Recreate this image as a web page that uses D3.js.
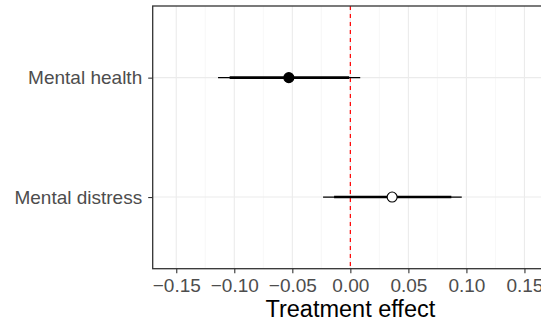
<!DOCTYPE html>
<html>
<head>
<meta charset="utf-8">
<script src="https://cdn.jsdelivr.net/npm/d3@7"></script>
<style>
  body { margin: 0; background: #fff; }
  svg { display: block; font-family: "Liberation Sans", Arial, sans-serif; }
</style>
</head>
<body>
<div id="chart"></div>
<script>
// data
var outcomes = ["Mental health", "Mental distress"];
var estimates = [-0.053, 0.036];
var ci90Low = [-0.104, -0.014];
var ci90High = [-0.001, 0.087];
var ci95Low = [-0.114, -0.0235];
var ci95High = [0.0085, 0.096];
var significant = [true, false];
var xTicks = [-0.15, -0.10, -0.05, 0.00, 0.05, 0.10, 0.15];
var xMinor = [-0.125, -0.075, -0.025, 0.025, 0.075, 0.125];

var W = 541, H = 324;
var margin = {left: 152.7, top: 6, right: -7, bottom: 55.3};
var width = W - margin.left - margin.right,
    height = H - margin.top - margin.bottom;

var svg = d3.select("#chart").append("svg")
    .attr("width", W)
    .attr("height", H);

var rows = outcomes.map(function(d, i) {
  return {name: d, est: estimates[i], lo90: ci90Low[i], hi90: ci90High[i],
          lo95: ci95Low[i], hi95: ci95High[i], sig: significant[i]};
});

var x = d3.scaleLinear().domain([-0.1703, 0.1703]).range([0, width]);
var y = d3.scalePoint().domain(outcomes).range([0, height]).padding(0.6);

var g = svg.append("g")
    .attr("transform", "translate(" + margin.left + "," + margin.top + ")");

// grid
g.selectAll(".minor").data(xMinor).enter().append("line")
    .attr("x1", function(d) { return x(d); }).attr("x2", function(d) { return x(d); })
    .attr("y1", 0).attr("y2", height)
    .attr("stroke", "#F2F2F2").attr("stroke-width", 0.6);

g.selectAll(".major").data(xTicks).enter().append("line")
    .attr("x1", function(d) { return x(d); }).attr("x2", function(d) { return x(d); })
    .attr("y1", 0).attr("y2", height)
    .attr("stroke", "#EBEBEB").attr("stroke-width", 1.1);

g.selectAll(".hgrid").data(outcomes).enter().append("line")
    .attr("x1", 0).attr("x2", width)
    .attr("y1", function(d) { return y(d); }).attr("y2", function(d) { return y(d); })
    .attr("stroke", "#EBEBEB").attr("stroke-width", 1.1);

// zero line
g.append("line")
    .attr("x1", x(0)).attr("x2", x(0))
    .attr("y1", 0).attr("y2", height)
    .attr("stroke", "#FF0000").attr("stroke-width", 1.2)
    .attr("stroke-dasharray", "4,4");

// intervals
g.selectAll(".ci95").data(rows).enter().append("line")
    .attr("x1", function(d) { return x(d.lo95); }).attr("x2", function(d) { return x(d.hi95); })
    .attr("y1", function(d) { return y(d.name); }).attr("y2", function(d) { return y(d.name); })
    .attr("stroke", "#000").attr("stroke-width", 1.2);

g.selectAll(".ci90").data(rows).enter().append("line")
    .attr("x1", function(d) { return x(d.lo90); }).attr("x2", function(d) { return x(d.hi90); })
    .attr("y1", function(d) { return y(d.name); }).attr("y2", function(d) { return y(d.name); })
    .attr("stroke", "#000").attr("stroke-width", 2.6);

g.selectAll(".pt").data(rows).enter().append("circle")
    .attr("cx", function(d) { return x(d.est); })
    .attr("cy", function(d) { return y(d.name); })
    .attr("r", 5)
    .attr("fill", function(d) { return d.sig ? "#000" : "#fff"; })
    .attr("stroke", "#000").attr("stroke-width", 1.1);

// panel border
g.append("rect")
    .attr("width", width).attr("height", height)
    .attr("fill", "none").attr("stroke", "#333333").attr("stroke-width", 1.3);

// axes
var xAxis = g.append("g")
    .attr("transform", "translate(0," + height + ")")
    .call(d3.axisBottom(x).tickValues(xTicks).tickSize(4.5).tickPadding(5)
      .tickFormat(function(d) { return d3.format(".2f")(d).replace("-", "\u2212"); }));
xAxis.select(".domain").remove();
xAxis.selectAll("line").attr("stroke", "#333333").attr("stroke-width", 1.1);
xAxis.selectAll("text").attr("fill", "#4D4D4D").style("font-size", "19px")
    .style("font-family", "'Liberation Sans', Arial, sans-serif");

var yAxis = g.append("g")
    .call(d3.axisLeft(y).tickSize(4.5).tickPadding(6));
yAxis.select(".domain").remove();
yAxis.selectAll("line").attr("stroke", "#333333").attr("stroke-width", 1.1);
yAxis.selectAll("text").attr("fill", "#4D4D4D").style("font-size", "19px")
    .style("font-family", "'Liberation Sans', Arial, sans-serif");

svg.append("text")
    .attr("x", margin.left + x(0))
    .attr("y", 317)
    .attr("text-anchor", "middle")
    .attr("fill", "#000")
    .style("font-size", "23.5px")
    .text("Treatment effect");
</script>
</body>
</html>
